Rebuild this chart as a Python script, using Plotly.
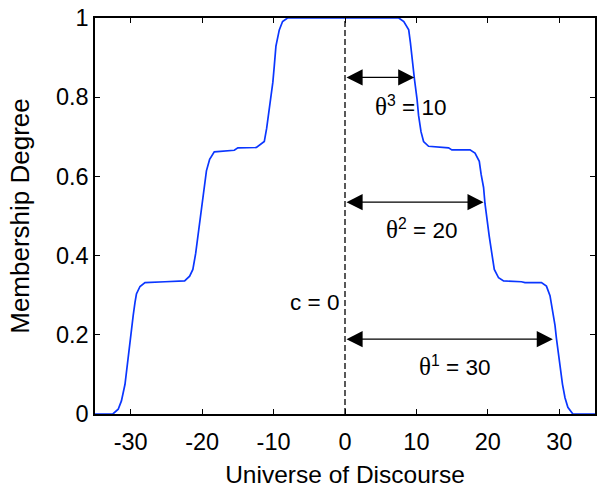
import plotly.graph_objects as go

# Membership curve
x_vals = [-35, -32.5, -31.75, -31.3, -30.8, -30.6, -30.2, -29.9, -29.65, -29.4, -29.2, -28.7, -28.0,
          -25.2, -22.45, -21.75, -21.3, -20.9, -20.6, -20.3, -20.0, -19.75, -19.4, -18.95, -18.3,
          -15.5, -15.0, -12.4, -11.3, -10.97, -10.7, -10.36, -10.1, -9.9, -9.67, -9.2, -8.74, -8.05,
          7.53, 8.23, 8.92, 9.16, 9.39, 9.72, 10.08, 10.3, 10.64, 11.0, 11.7,
          14.5, 14.96, 17.5, 18.2, 18.8, 19.06, 19.4, 19.6, 19.85, 20.2, 20.55, 20.9, 21.5, 22.2,
          24.7, 25.2, 27.5, 28.2, 28.7, 29.05, 29.4, 29.6, 29.9, 30.2, 30.45, 30.8, 31.2, 31.9, 35]
y_vals = [0, 0, 0.012, 0.033, 0.075, 0.108, 0.157, 0.207, 0.249, 0.282, 0.303, 0.322, 0.332,
          0.334, 0.336, 0.348, 0.365, 0.406, 0.448, 0.489, 0.531, 0.572, 0.614, 0.643, 0.662,
          0.666, 0.672, 0.673, 0.688, 0.721, 0.754, 0.796, 0.838, 0.879, 0.929, 0.970, 0.991, 1.0,
          1.0, 0.991, 0.970, 0.937, 0.896, 0.846, 0.796, 0.754, 0.713, 0.688, 0.676,
          0.672, 0.667, 0.667, 0.659, 0.638, 0.605, 0.572, 0.531, 0.489, 0.448, 0.406, 0.365, 0.344, 0.336,
          0.334, 0.332, 0.332, 0.323, 0.299, 0.265, 0.224, 0.191, 0.149, 0.108, 0.075, 0.041, 0.017, 0, 0]

center_c = 0
# widths theta^k and the arrow levels / arrow tip positions
theta_vals = [30, 20, 10]
theta_idx = [1, 2, 3]
arrow_y = [0.189, 0.535, 0.85]
arrow_tip = [29.1, 19.4, 9.7]
label_x = [15.3, 10.7, 9.1]
label_y = [0.122, 0.466, 0.777]

x_ticks = [-30, -20, -10, 0, 10, 20, 30]
x_tick_text = ["-30", "-20", "-10", "0", "10", "20", "30"]
y_ticks = [0, 0.2, 0.4, 0.6, 0.8, 1]
y_tick_text = ["0", "0.2", "0.4", "0.6", "0.8", "1"]

FONT = "Arial, Liberation Sans, sans-serif"

fig = go.Figure()
fig.add_trace(go.Scatter(x=x_vals, y=y_vals, mode="lines",
                         line=dict(color="#0a36ff", width=1.7), hoverinfo="skip"))
fig.add_trace(go.Scatter(x=[center_c, center_c], y=[0, 1], mode="lines",
                         line=dict(color="black", width=1.3, dash="6px,3px"), hoverinfo="skip"))

annotations = []
for th, k, ay, tip, lx, ly in zip(theta_vals, theta_idx, arrow_y, arrow_tip, label_x, label_y):
    annotations.append(dict(x=tip, y=ay, ax=center_c, ay=ay, xref="x", yref="y",
                            axref="x", ayref="y", text="", showarrow=True,
                            arrowhead=2, startarrowhead=2, arrowside="end+start",
                            arrowsize=2.3, startarrowsize=2.3, arrowwidth=1.4,
                            arrowcolor="black", standoff=0, startstandoff=0))
    annotations.append(dict(x=lx, y=ly, xref="x", yref="y", showarrow=False,
                            text=f"<span style='font-family:Liberation Serif;font-size:25px'>θ</span><sup>{k}</sup> = {th}",
                            font=dict(family=FONT, size=22.5, color="black"),
                            xanchor="center", yanchor="middle"))
annotations.append(dict(x=-4.25, y=0.282, xref="x", yref="y", showarrow=False,
                        text=f"c = {center_c}", font=dict(family=FONT, size=22.5, color="black"),
                        xanchor="center", yanchor="middle"))

fig.update_layout(
    width=598, height=488,
    margin=dict(l=95, r=1, t=18, b=68),
    paper_bgcolor="white", plot_bgcolor="white",
    showlegend=False,
    font=dict(family=FONT, size=23, color="black"),
    annotations=annotations,
)
fig.update_xaxes(range=[-35, 35], tickvals=x_ticks, ticktext=x_tick_text, ticks="inside", ticklen=5,
                 tickwidth=1.3, tickcolor="black", showline=True, linecolor="black", linewidth=1.5,
                 mirror="ticks", showgrid=False, zeroline=False, ticklabelstandoff=6,
                 title=dict(text="Universe of Discourse", standoff=15,
                            font=dict(family=FONT, size=24.5)),
                 tickfont=dict(family=FONT, size=23.5))
fig.update_yaxes(range=[0, 1], tickvals=y_ticks, ticktext=y_tick_text, ticks="inside", ticklen=5,
                 tickwidth=1.3, tickcolor="black", showline=True, linecolor="black", linewidth=1.5,
                 mirror="ticks", showgrid=False, zeroline=False,
                 title=dict(text="Membership Degree", standoff=19,
                            font=dict(family=FONT, size=26)),
                 tickfont=dict(family=FONT, size=23.5))

fig.write_html("out.html", config={"displayModeBar": False},
               post_script="document.body.style.margin='0';document.body.style.overflow='hidden';")
